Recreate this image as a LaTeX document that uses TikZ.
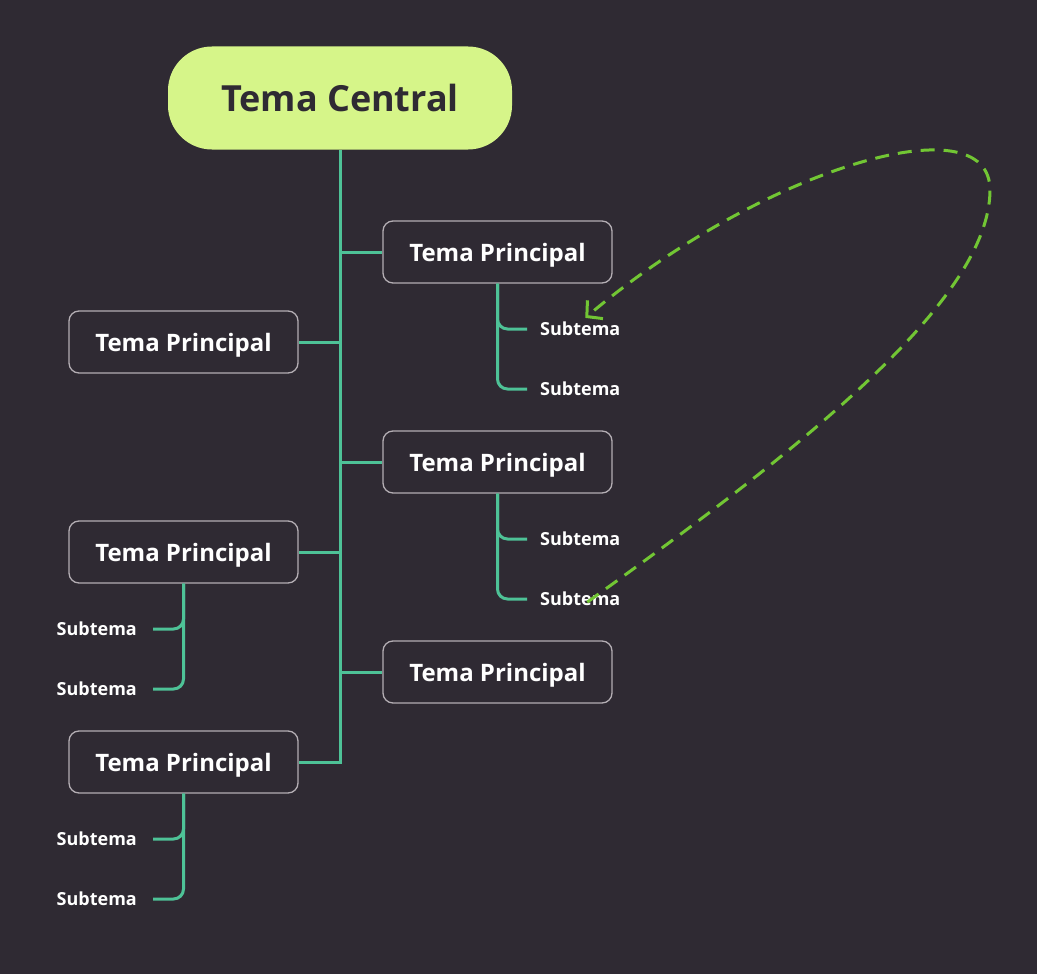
\documentclass[tikz,border=0pt]{standalone}
\usepackage{fontspec}
\setmainfont{Open Sans}
\usetikzlibrary{arrows.meta}
\definecolor{bgdark}{HTML}{2F2A33}
\definecolor{limefill}{HTML}{D6F589}
\definecolor{branch}{HTML}{4EC297}
\definecolor{boxline}{HTML}{B4AEB4}
\definecolor{looparrow}{HTML}{72C634}

\begin{document}
\begin{tikzpicture}[x=1pt,y=-1pt,
  central/.style={fill=limefill,rounded corners=44pt,minimum width=344pt,minimum height=103pt,
    text=bgdark,text depth=0pt,font=\bfseries\fontsize{36}{40}\selectfont},
  topic/.style={draw=boxline,line width=1.3pt,rounded corners=10pt,minimum width=229pt,minimum height=62pt,
    text=white,text depth=0pt,font=\bfseries\fontsize{24}{28}\selectfont},
  sub/.style={text=white,inner xsep=13pt,inner ysep=0pt,font=\bfseries\fontsize{18}{21}\selectfont},
  link/.style={draw=branch,line width=3pt},
  subrel/.style={link,rounded corners=10pt}]
  \fill[bgdark] (0,0) rectangle (1037,974);
  \node[central] (c) at (340,98) {Tema Central};
  \node[topic] (r1) at (497.5,252) {Tema Principal};
  \node[topic] (r2) at (497.5,462) {Tema Principal};
  \node[topic] (r3) at (497.5,672) {Tema Principal};
  \node[topic] (l1) at (183.5,342) {Tema Principal};
  \node[topic] (l2) at (183.5,552) {Tema Principal};
  \node[topic] (l3) at (183.5,762) {Tema Principal};
  \node[sub,anchor=west] (s11) at (527,329) {Subtema};
  \node[sub,anchor=west] (s12) at (527,389) {Subtema};
  \node[sub,anchor=west] (s21) at (527,539) {Subtema};
  \node[sub,anchor=west] (s22) at (527,599) {Subtema};
  \node[sub,anchor=east,inner xsep=16pt] (s31) at (153,629) {Subtema};
  \node[sub,anchor=east,inner xsep=16pt] (s32) at (153,689) {Subtema};
  \node[sub,anchor=east,inner xsep=16pt] (s41) at (153,839) {Subtema};
  \node[sub,anchor=east,inner xsep=16pt] (s42) at (153,899) {Subtema};
  \draw[link] (c.south) -- (c.south |- l3.east) -- (l3.east);
  \foreach \t in {r1,r2,r3} \draw[link] (c.south |- \t.west) -- (\t.west);
  \foreach \t in {l1,l2} \draw[link] (c.south |- \t.east) -- (\t.east);
  \foreach \t/\s in {r1/s11,r1/s12,r2/s21,r2/s22,l2/s31,l2/s32,l3/s41,l3/s42}
    \draw[subrel] (\t.south) |- (\s);
  \coordinate (bend) at (990,190);
  \draw[looparrow,line width=3pt,dash pattern=on 14pt off 9pt,-{Straight Barb[length=11pt,width=24pt]}]
    ([xshift=7pt,yshift=4pt]s22.south) .. controls (800,450) and (990,300) .. (bend)
    .. controls (990,100) and (760,170) .. ([xshift=5pt,yshift=4pt]s11.north);
\end{tikzpicture}
\end{document}
